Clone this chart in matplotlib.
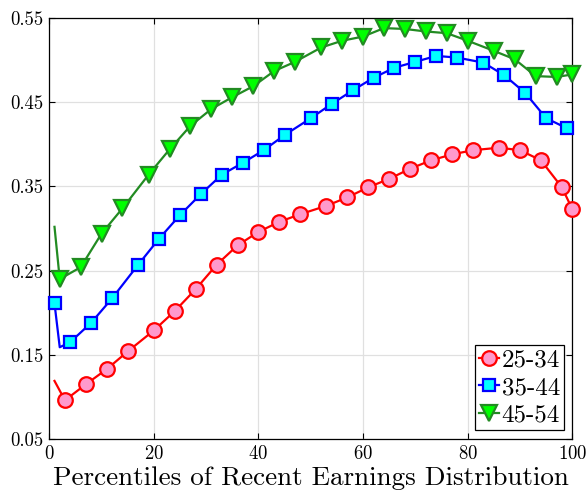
import matplotlib
matplotlib.use("Agg")
import matplotlib.pyplot as plt

plt.rcParams['font.family'] = 'serif'
plt.rcParams['font.serif'] = ['cmr10', 'DejaVu Serif']
plt.rcParams['axes.formatter.use_mathtext'] = True

# Data
x_red = [1, 3, 7, 11, 15, 20, 24, 28, 32, 36, 40, 44, 48, 53, 57, 61, 65, 69, 73, 77, 81, 86, 90, 94, 98, 100]
y_red = [0.119, 0.096, 0.115, 0.133, 0.154, 0.179, 0.202, 0.228, 0.257, 0.280, 0.296, 0.308, 0.317,
         0.327, 0.337, 0.349, 0.359, 0.371, 0.381, 0.388, 0.393, 0.396, 0.393, 0.381, 0.349, 0.323]

x_blue = [1, 2, 4, 8, 12, 17, 21, 25, 29, 33, 37, 41, 45, 50, 54, 58, 62, 66, 70, 74, 78, 83, 87, 91, 95, 99]
y_blue = [0.211, 0.159, 0.165, 0.188, 0.217, 0.257, 0.288, 0.316, 0.341, 0.364, 0.378, 0.393, 0.411,
          0.431, 0.448, 0.464, 0.479, 0.491, 0.498, 0.505, 0.503, 0.497, 0.482, 0.461, 0.431, 0.419]

x_green = [1, 2, 6, 10, 14, 19, 23, 27, 31, 35, 39, 43, 47, 52, 56, 60, 64, 68, 72, 76, 80, 85, 89, 93, 97, 100]
y_green = [0.302, 0.240, 0.254, 0.294, 0.324, 0.364, 0.394, 0.422, 0.442, 0.456, 0.469, 0.487, 0.498,
           0.515, 0.523, 0.528, 0.538, 0.537, 0.534, 0.532, 0.523, 0.511, 0.501, 0.481, 0.480, 0.483]

labels = ['25-34', '35-44', '45-54']
x_ticks = [0, 20, 40, 60, 80, 100]
y_ticks = [0.05, 0.15, 0.25, 0.35, 0.45, 0.55]
y_ticklabels = ['0.05', '0.15', '0.25', '0.35', '0.45', '0.55']

fig = plt.figure(figsize=(5.88, 4.95), dpi=100)
ax = fig.add_axes([0.0838, 0.1131, 0.9733 - 0.0838, 0.9636 - 0.1131])

ax.plot(x_red, y_red, color='#ff0000', lw=1.6, marker='o', ms=10.5, mew=1.6,
        mfc='#ff99cc', mec='#ff0000', markevery=list(range(1, len(x_red))), label=labels[0],
        clip_on=False, zorder=3)
ax.plot(x_blue, y_blue, color='#0000ff', lw=1.6, marker='s', ms=8.3, mew=1.6,
        mfc='#00ffff', mec='#0000ff', markevery=[0] + list(range(2, len(x_blue))), label=labels[1],
        clip_on=False, zorder=3)
ax.plot(x_green, y_green, color='#228b22', lw=1.6, marker='v', ms=11.5, mew=1.6,
        mfc='#00ff00', mec='#228b22', markevery=list(range(1, len(x_green))), label=labels[2],
        clip_on=False, zorder=3)

ax.set_xlim(0, 100)
ax.set_ylim(0.05, 0.55)
ax.set_xticks(x_ticks)
ax.set_yticks(y_ticks)
ax.set_yticklabels(y_ticklabels)
ax.tick_params(direction='in', top=True, right=True, length=4, width=0.8, labelsize=13.5, pad=4)
ax.grid(True, color='#e0e0e0', lw=0.9)
ax.set_axisbelow(True)
for s in ax.spines.values():
    s.set_linewidth(0.9)

ax.set_xlabel('Percentiles of Recent Earnings Distribution', fontsize=19.5, labelpad=3)

leg = ax.legend(loc='lower right', fontsize=18, handlelength=0.8, handletextpad=0.12,
                labelspacing=0.2, borderpad=0.15, borderaxespad=0.35, fancybox=False,
                framealpha=1, edgecolor='black')
leg.get_frame().set_linewidth(0.9)
leg.set_zorder(5)

fig.savefig('out.png', dpi=100)
